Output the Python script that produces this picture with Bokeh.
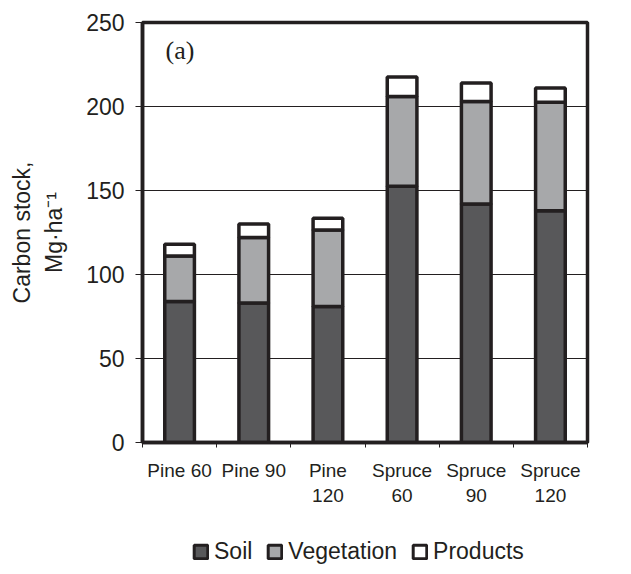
from bokeh.plotting import figure
from bokeh.layouts import column
from bokeh.models import Range1d, FixedTicker, Legend, LegendItem, Label, ColumnDataSource
from bokeh.embed import file_html
from bokeh.resources import INLINE

categories = ["Pine 60", "Pine 90", "Pine\n120", "Spruce\n60", "Spruce\n90", "Spruce\n120"]
soil = [84, 83, 81, 152.5, 142, 138]
vegetation = [27, 39, 45.5, 53.5, 61, 64.5]
products = [7, 8, 7, 11.5, 11, 8.5]
series = ["Soil", "Vegetation", "Products"]
colors = ["#58585a", "#a7a8aa", "#ffffff"]
y_ticks = [0, 50, 100, 150, 200, 250]

INK = "#231f20"
SANS = "Liberation Sans"
LW = 3.5

x = [i + 0.5 for i in range(len(categories))]
source = ColumnDataSource(dict(x=x, Soil=soil, Vegetation=vegetation, Products=products))

p = figure(width=630, height=508,
           x_range=Range1d(0, len(categories)), y_range=Range1d(0, 250),
           output_backend="svg", toolbar_location=None,
           min_border_left=142, min_border_right=43, min_border_top=22, min_border_bottom=66)
p.background_fill_color = "white"
p.border_fill_color = "white"
p.outline_line_color = INK
p.outline_line_width = LW

renderers = p.vbar_stack(series, x="x", width=0.4, source=source,
                         fill_color=colors, line_color=INK, line_width=LW)

# x axis: labels at category centres, tick marks at category boundaries
xa = p.xaxis[0]
xa.ticker = FixedTicker(ticks=x, minor_ticks=list(range(len(categories) + 1)))
xa.major_label_overrides = {xi: c for xi, c in zip(x, categories)}
xa.major_tick_out = 0
xa.major_tick_in = 0
xa.minor_tick_out = 5
xa.minor_tick_in = 0
xa.minor_tick_line_color = INK
xa.minor_tick_line_width = 1
xa.axis_line_color = INK
xa.axis_line_width = LW
xa.major_label_text_font = SANS
xa.major_label_text_font_size = "19px"
xa.major_label_text_color = INK
xa.major_label_text_line_height = 1.2
xa.major_label_standoff = 12

ya = p.yaxis[0]
ya.ticker = FixedTicker(ticks=y_ticks, minor_ticks=[])
ya.major_tick_out = 7
ya.major_tick_in = 0
ya.major_tick_line_color = INK
ya.major_tick_line_width = 1
ya.minor_tick_out = 0
ya.minor_tick_in = 0
ya.axis_line_color = INK
ya.axis_line_width = LW
ya.major_label_text_font = SANS
ya.major_label_text_font_size = "23px"
ya.major_label_text_color = INK
ya.major_label_standoff = 11
ya.axis_label = "Carbon stock,\nMg·ha⁻¹"
ya.axis_label_text_font = SANS
ya.axis_label_text_font_size = "23px"
ya.axis_label_text_font_style = "normal"
ya.axis_label_text_color = INK
ya.axis_label_text_line_height = 1.25
ya.axis_label_standoff = 16

p.xgrid.visible = False
p.ygrid.ticker = FixedTicker(ticks=y_ticks)
p.ygrid.grid_line_color = INK
p.ygrid.grid_line_width = 1

# panel letter
p.add_layout(Label(x=23, y=392, x_units="screen", y_units="screen", text="(a)",
                   text_align="left", text_baseline="middle",
                   text_font="Liberation Serif", text_font_size="26px", text_color=INK))

# legend strip below the chart (its frame is aligned with the chart frame)
lf = figure(width=630, height=65, x_range=Range1d(0, 1), y_range=Range1d(0, 1),
            output_backend="svg", toolbar_location=None,
            x_axis_location=None, y_axis_location=None, min_border=0)
lf.outline_line_color = None
lf.grid.visible = False
lf.background_fill_color = "white"
lf.border_fill_color = "white"
# legend swatches: one undrawable (NaN) bar each, so only the legend glyph shows
swatches = [lf.vbar(x=[float("nan")], top=[1], width=0.4,
                    fill_color=c, line_color=INK, line_width=3)
            for c in colors]
legend = Legend(items=[LegendItem(label=s, renderers=[r]) for s, r in zip(series, swatches)],
                orientation="horizontal", location=(50, 8),
                border_line_color=None, background_fill_alpha=0,
                padding=0, margin=0, spacing=14, label_standoff=5,
                glyph_width=17, glyph_height=17,
                label_text_font=SANS, label_text_font_size="23px", label_text_color=INK)
lf.add_layout(legend)

open("out.html", "w").write(file_html(column(p, lf), INLINE))
